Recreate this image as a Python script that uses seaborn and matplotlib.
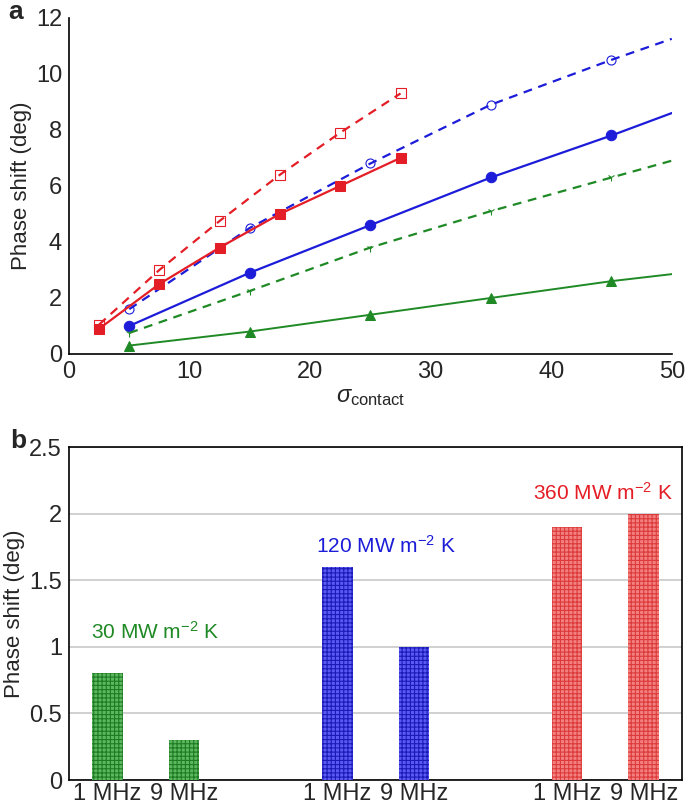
import seaborn as sns
import pandas as pd
import numpy as np
import matplotlib
matplotlib.use('Agg')
import matplotlib.pyplot as plt

# panel a data
x_red = [2.5, 7.5, 12.5, 17.5, 22.5, 27.5]
red_solid = [0.9, 2.5, 3.8, 5.0, 6.0, 7.0]
red_dash = [1.05, 3.0, 4.75, 6.4, 7.9, 9.3]
x_bg = [5, 15, 25, 35, 45, 50]
blue_solid = [1.0, 2.9, 4.6, 6.3, 7.8, 8.6]
blue_dash = [1.6, 4.5, 6.8, 8.9, 10.5, 11.25]
green_dash = [0.75, 2.25, 3.8, 5.1, 6.3, 6.9]
green_solid = [0.3, 0.8, 1.4, 2.0, 2.6, 2.85]

# panel b data
freq_labels = ['1 MHz', '9 MHz', '1 MHz', '9 MHz', '1 MHz', '9 MHz']
bar_pos = [0, 1, 3, 4, 6, 7]
bar_vals = [0.8, 0.3, 1.6, 1.0, 1.9, 2.0]
bar_group = ['30', '30', '120', '120', '360', '360']
group_labels = ['30 MW m$^{-2}$ K', '120 MW m$^{-2}$ K', '360 MW m$^{-2}$ K']

RED = '#e41e26'
BLUE = '#1c1cd9'
GREEN = '#1f8a25'

sns.set_style('white')
plt.rcParams['font.family'] = ['Liberation Sans', 'DejaVu Sans']
plt.rcParams['mathtext.fontset'] = 'custom'
plt.rcParams['mathtext.rm'] = 'Liberation Sans'
plt.rcParams['mathtext.it'] = 'Liberation Sans:italic'
plt.rcParams['hatch.linewidth'] = 0.8

fig = plt.figure(figsize=(6.85, 8.1), dpi=100)
ax1 = fig.add_axes([0.1007, 0.563, 0.880, 0.415])
ax2 = fig.add_axes([0.1007, 0.037, 0.895, 0.411])

mk = list(range(5))
sns.lineplot(x=x_red, y=red_dash, ax=ax1, color=RED, lw=1.6, ls=(0, (4, 3)),
             marker='s', ms=6.5, mfc='none', mec=RED, mew=0.8)
sns.lineplot(x=x_bg, y=blue_dash, ax=ax1, color=BLUE, lw=1.6, ls=(0, (4, 3)),
             marker='o', ms=6.5, mfc='none', mec=BLUE, mew=0.8, markevery=mk)
sns.lineplot(x=x_red, y=red_solid, ax=ax1, color=RED, lw=1.6,
             marker='s', ms=7.5, mec=RED)
sns.lineplot(x=x_bg, y=blue_solid, ax=ax1, color=BLUE, lw=1.6,
             marker='o', ms=7.5, mec=BLUE, markevery=mk)
sns.lineplot(x=x_bg, y=green_dash, ax=ax1, color=GREEN, lw=1.6, ls=(0, (4, 3)),
             marker='1', ms=6, mec=GREEN, mew=0.8, markevery=mk)
sns.lineplot(x=x_bg, y=green_solid, ax=ax1, color=GREEN, lw=1.4,
             marker='^', ms=7, mec=GREEN, markevery=mk)

ax1.set_xlim(0, 50)
ax1.set_ylim(0, 12)
ax1.set_xticks([0, 10, 20, 30, 40, 50])
ax1.set_yticks([0, 2, 4, 6, 8, 10, 12])
ax1.tick_params(labelsize=17, length=0, pad=5)
for s in ['top', 'right']:
    ax1.spines[s].set_visible(False)
for s in ['left', 'bottom']:
    ax1.spines[s].set_color('black')
    ax1.spines[s].set_linewidth(1.2)
ax1.set_xlabel(r'$\sigma_{\mathrm{contact}}$', fontsize=17, labelpad=2)
ax1.set_ylabel('Phase shift (deg)', fontsize=16, labelpad=3)

# panel b
dfb = pd.DataFrame({'pos': bar_pos, 'val': bar_vals, 'group': bar_group})
pal = {'30': '#5cb85c', '120': '#5a5af2', '360': '#f28080'}
edge = {'30': '#1f7a25', '120': '#1a1ab8', '360': '#dd3a3a'}
sns.barplot(data=dfb, x='pos', y='val', hue='group', palette=pal, native_scale=True,
            dodge=False, width=0.4, legend=False, ax=ax2, saturation=1, zorder=3)
for p, g in zip(ax2.patches, bar_group):
    p.set_hatch('++++')
    p.set_edgecolor(edge[g])
    p.set_linewidth(0)

ax2.set_xlim(-0.5, 7.5)
ax2.set_ylim(0, 2.5)
ax2.set_yticks([0, 0.5, 1, 1.5, 2, 2.5])
ax2.set_yticklabels(['0', '0.5', '1', '1.5', '2', '2.5'])
ax2.set_xticks(bar_pos)
ax2.set_xticklabels(freq_labels)
ax2.tick_params(labelsize=17, length=0, pad=2)
ax2.tick_params(axis='y', pad=5)
ax2.yaxis.grid(True, color='#c8c8c8', lw=1.2)
ax2.set_axisbelow(True)
for s in ax2.spines.values():
    s.set_visible(True)
    s.set_color('black')
    s.set_linewidth(1.2)
ax2.set_xlabel('')
ax2.set_ylabel('Phase shift (deg)', fontsize=16, labelpad=3)

ax2.text(0.63, 1.11, group_labels[0], color=GREEN, fontsize=15, ha='center', va='center')
ax2.text(3.64, 1.76, group_labels[1], color=BLUE, fontsize=15, ha='center', va='center')
ax2.text(6.47, 2.16, group_labels[2], color=RED, fontsize=15, ha='center', va='center')

fig.text(0.012, 0.985, 'a', fontsize=19, fontweight='bold', va='center')
fig.text(0.015, 0.456, 'b', fontsize=19, fontweight='bold', va='center')

fig.savefig('out.png', dpi=100)
